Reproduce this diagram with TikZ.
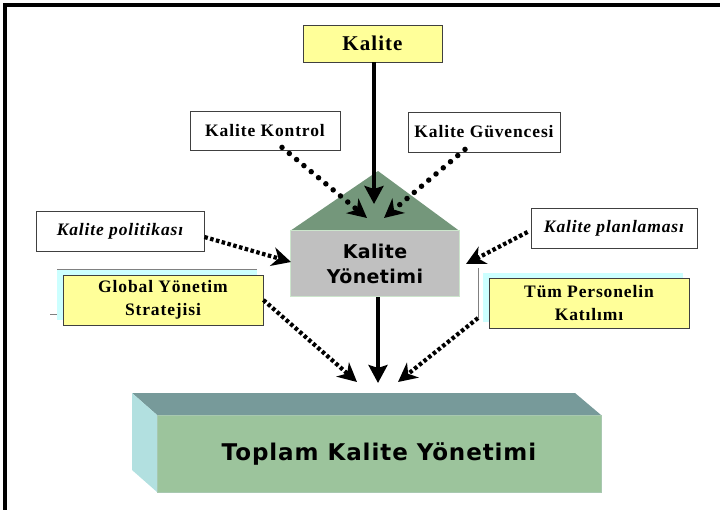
\documentclass[tikz,border=0pt]{standalone}
\usepackage{fontspec}
\usetikzlibrary{arrows.meta}
\setmainfont{Liberation Serif}
\newfontfamily\boxserif[LetterSpace=5]{Liberation Serif}
\newfontfamily\boxsans[LetterSpace=2]{DejaVu Sans}
\newfontfamily\basesans[LetterSpace=4]{DejaVu Sans}

\definecolor{noteyellow}{HTML}{FFFF99}
\definecolor{roofgreen}{HTML}{74977B}
\definecolor{bodygray}{HTML}{C0C0C0}
\definecolor{bodyedge}{HTML}{CCE5CC}
\definecolor{slabtop}{HTML}{779A9A}
\definecolor{slabfront}{HTML}{9CC49C}
\definecolor{slabside}{HTML}{B2E0E0}
\definecolor{slabedge}{HTML}{A8C8B0}
\definecolor{shadowcyan}{HTML}{CCFFFF}
\definecolor{boxedge}{HTML}{404040}

\tikzset{
  notebox/.style={draw=boxedge, line width=0.8pt, fill=white, inner sep=0pt,
    font=\boxserif\bfseries\fontsize{17.5}{19}\selectfont},
  yellowbox/.style={notebox, fill=noteyellow, align=center,
    font=\boxserif\bfseries\fontsize{17.5}{23}\selectfont},
  solidarrow/.style={line width=4pt, -{Stealth[length=18pt, width=19pt, inset=3pt]}},
  rounddots/.style={line width=5.5pt, line cap=round, dash pattern=on 0pt off 9.5pt,
    -{Stealth[length=19pt, width=19pt, inset=6pt, line cap=butt]}},
  squaredots/.style={line width=4.2pt, dash pattern=on 3.5pt off 2.5pt,
    -{Stealth[length=19pt, width=19pt, inset=6pt]}},
}

\begin{document}
\begin{tikzpicture}[x=1pt, y=-1pt]
  \useasboundingbox (0,0) rectangle (720,510);

  % outer frame (left and top edges)
  \draw[line width=4pt] (5,510) -- (5,5) -- (720,5);

  % light shadows behind the two yellow boxes
  \fill[shadowcyan] (57,269) rectangle (257,320);
  \draw[gray, line width=0.6pt] (57,269) -- (257,269);
  \draw[gray, line width=0.6pt] (50,314) -- (57,314);
  \fill[shadowcyan] (483,273) rectangle (683,322);
  \draw[gray, line width=0.6pt] (478,268) -- (478,318);

  % top source box
  \node[yellowbox, minimum width=139pt, minimum height=37pt,
        font=\boxserif\bfseries\fontsize{21}{24}\selectfont] (kalite) at (372.5,43.5) {Kalite};

  % side input boxes
  \node[notebox, minimum width=150pt, minimum height=39pt] (kontrol) at (265,130.5) {Kalite Kontrol};
  \node[notebox, minimum width=152pt, minimum height=40pt] (guven) at (484,132) {Kalite Güvencesi};
  \node[notebox, minimum width=168pt, minimum height=40pt,
        font=\boxserif\bfseries\itshape\fontsize{17.5}{19}\selectfont] (polit) at (120,231) {Kalite politikası};
  \node[notebox, minimum width=166pt, minimum height=40pt,
        font=\boxserif\bfseries\itshape\fontsize{17.5}{19}\selectfont] (plan) at (614,228) {Kalite planlaması};

  % yellow boxes
  \node[yellowbox, minimum width=200pt, minimum height=50pt] (global) at (163,300) {Global Yönetim\\Stratejisi};
  \node[yellowbox, minimum width=200pt, minimum height=50pt] (tum) at (589,303) {Tüm Personelin\\Katılımı};

  % house: roof and body
  \fill[roofgreen] (290,231) -- (378,171) -- (459.5,231) -- cycle;
  \node[fill=bodygray, draw=bodyedge, line width=1pt, minimum width=169pt, minimum height=66pt,
        inner sep=0pt, align=center, font=\boxsans\bfseries\fontsize{19}{25}\selectfont]
        (ky) at (375,264) {Kalite\\Yönetimi};

  % slab at the bottom
  \fill[slabtop] (132,393) -- (575,393) -- (601,415) -- (157,415) -- cycle;
  \fill[slabside] (132,393) -- (157,415) -- (157,492) -- (132,470) -- cycle;
  \node[fill=slabfront, draw=slabedge, line width=0.8pt, minimum width=444pt, minimum height=77pt,
        inner sep=0pt, font=\basesans\bfseries\fontsize{23}{26}\selectfont]
        (tky) at (379,453.5) {Toplam Kalite Yönetimi};

  % arrow targets
  \coordinate (kyTop)   at (374,204);
  \coordinate (kyLeftT) at (367,218);
  \coordinate (kyRightT)at (384,218);
  \coordinate (kyWest)  at (291,262);
  \coordinate (kyEast)  at (466,264);
  \coordinate (tkyL)    at (357,382);
  \coordinate (tkyM)    at (378,383);
  \coordinate (tkyR)    at (398,382);
  \coordinate (tumOut)  at (478,318);

  % connectors
  \draw[solidarrow] (kalite.south -| kyTop) -- (kyTop);
  \draw[rounddots] ([xshift=17pt,yshift=3pt]kontrol.south) -- (kyLeftT);
  \draw[rounddots] ([xshift=-19pt,yshift=3pt]guven.south) -- (kyRightT);
  \draw[squaredots] ([yshift=-6pt]polit.east) -- (kyWest);
  \draw[squaredots] ([xshift=-3pt,yshift=-4pt]plan.west) -- (kyEast);
  \draw[solidarrow] (ky.south -| tkyM) -- (tkyM);
  \draw[squaredots] (global.east) -- (tkyL);
  \draw[squaredots] (tumOut) -- (tkyR);
\end{tikzpicture}
\end{document}
